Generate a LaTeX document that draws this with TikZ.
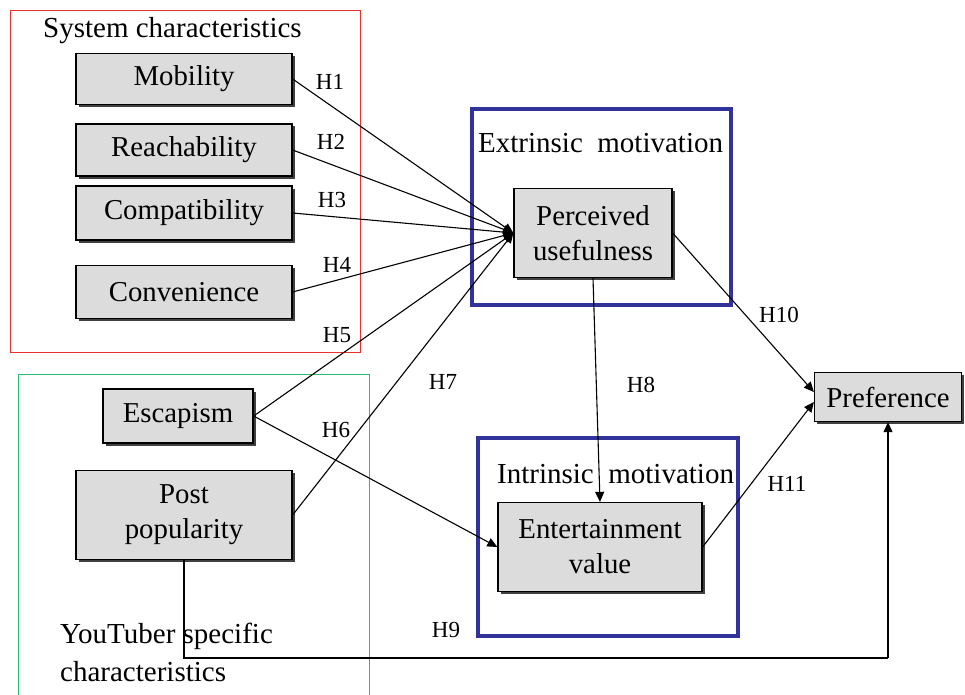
\documentclass[tikz,border=0pt]{standalone}
\usepackage{fontspec}
\setmainfont{Liberation Serif}
\usetikzlibrary{arrows.meta,shadows}

\definecolor{framered}{RGB}{232,50,50}
\definecolor{framegreen}{RGB}{40,190,110}
\definecolor{frameblue}{RGB}{50,50,155}
\definecolor{boxgray}{RGB}{220,220,220}

\tikzset{
  construct/.style={draw=black, line width=1.3pt, fill=boxgray, inner sep=0pt,
    align=center, font=\fontsize{28.8}{35}\selectfont,
    drop shadow={shadow xshift=2.5pt, shadow yshift=-2.5pt, fill=black!75, opacity=1}},
  hyp/.style={font=\fontsize{23}{26}\selectfont, inner sep=1pt},
  grouplabel/.style={font=\fontsize{29}{36}\selectfont, inner sep=0pt, align=left},
  link/.style={line width=1.1pt, -{Triangle[length=10pt,width=9pt]}},
  plainlink/.style={line width=1.1pt}
}

\begin{document}
\begin{tikzpicture}[x=1pt,y=-1pt]

    \useasboundingbox (0,0) rectangle (965,695);

    % Cadres des groupes
    \draw[framered, line width=0.9pt] (10,10) rectangle (360,352);
    \draw[framegreen, line width=0.9pt] (18,374) rectangle (369,700);
    \draw[frameblue, line width=3.5pt] (472,109) rectangle (731,305);
    \draw[frameblue, line width=3.5pt] (478,438) rectangle (738,636);

    % Titres des groupes
    \node[grouplabel, anchor=west] (tsys) at (43,31) {System characteristics};
    \node[grouplabel, anchor=west] (text) at (478,143) {Extrinsic\ \ motivation};
    \node[grouplabel, anchor=west] (tint) at (497,474) {Intrinsic\ \ motivation};
    \node[grouplabel, anchor=west] (tyou) at (60,636) {YouTuber specific};
    \node[grouplabel, anchor=west] (tyou2) at (60,672) {characteristics};

    % Construits
    \node[construct, minimum width=216pt, minimum height=51pt] (mob) at (184,79) {Mobility};
    \node[construct, minimum width=216pt, minimum height=52pt] (rea) at (184,150) {Reachability};
    \node[construct, minimum width=216pt, minimum height=54pt] (com) at (184,213) {Compatibility};
    \node[construct, minimum width=216pt, minimum height=53pt] (con) at (184,292) {Convenience};
    \node[construct, minimum width=150pt, minimum height=54pt] (esc) at (178,416) {Escapism};
    \node[construct, minimum width=216pt, minimum height=89pt] (pop) at (184,515) {Post\\popularity};
    \node[construct, minimum width=158pt, minimum height=89pt] (pu) at (593,233) {Perceived\\usefulness};
    \node[construct, minimum width=204pt, minimum height=89pt] (ev) at (600,547) {Entertainment\\value};
    \node[construct, minimum width=147pt, minimum height=49pt] (pref) at (888,397) {Preference};

    % Hypotheses
    \draw[link] (mob.east) -- (pu.west);
    \draw[link] (rea.east) -- (pu.west);
    \draw[link] (com.east) -- (pu.west);
    \draw[link] (con.east) -- (pu.west);
    \draw[link] (esc.east) -- (pu.west);
    \draw[link] (pop.east) -- (pu.west);
    \draw[link] (esc.east) -- (ev.west);
    \draw[link] (pu.south) -- (ev.north);
    \draw[link] (pu.east) -- ([yshift=5pt]pref.west);
    \draw[link] (ev.east) -- ([yshift=-5pt]pref.west);
    \coordinate (low) at (0,658);
    \draw[plainlink] (pop.south) |- (low -| pref.south);
    \draw[link] (low -| pref.south) -- (pref.south);

    % Labels
    \node[hyp] (h1) at (330,82) {H1};
    \node[hyp] (h2) at (331,142) {H2};
    \node[hyp] (h3) at (332,200) {H3};
    \node[hyp] (h4) at (337,265) {H4};
    \node[hyp] (h5) at (337,335) {H5};
    \node[hyp] (h6) at (336,430) {H6};
    \node[hyp] (h7) at (443,382) {H7};
    \node[hyp] (h8) at (641,385) {H8};
    \node[hyp] (h9) at (446,630) {H9};
    \node[hyp] (h10) at (779,315) {H10};
    \node[hyp] (h11) at (787,484) {H11};

\end{tikzpicture}
\end{document}
